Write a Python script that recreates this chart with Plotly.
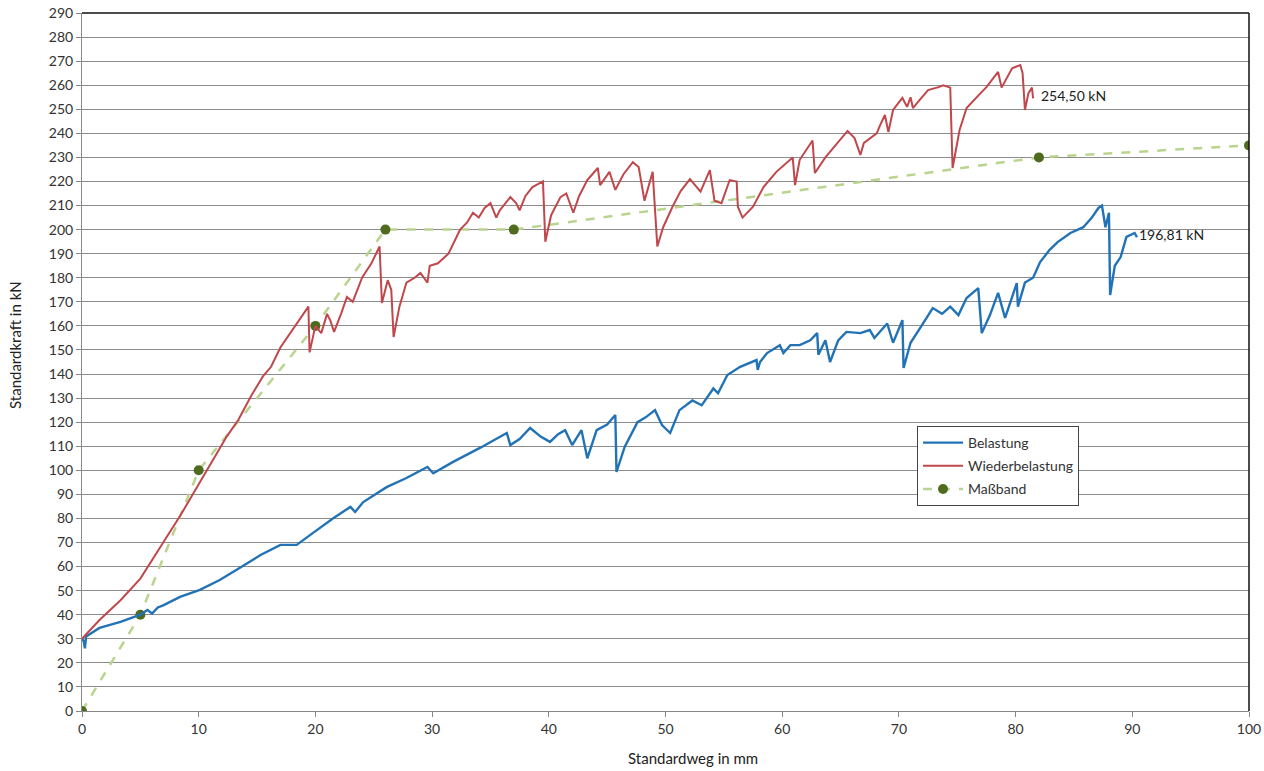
import plotly.graph_objects as go

# Belastung (first loading)
bel_x = [0, 0.15, 0.25, 0.35, 1.5, 3.3, 5, 5.6, 6, 6.5, 7, 8.4, 10.1, 11.8, 13.5, 15.3, 17, 18.4,
         19.8, 21.5, 23, 23.4, 24.1, 26.1, 27.8, 29.6, 30.1, 31.8, 34.1, 36.4, 36.7, 37.5, 38.4,
         39.3, 40.1, 40.8, 41.4, 42, 42.8, 43.3, 44.1, 45, 45.7, 45.8, 46.5, 47.6, 48.3, 49.1,
         49.7, 50.4, 51.2, 52.3, 53.1, 54.1, 54.5, 55.3, 56.4, 57.8, 57.9, 58.1, 58.7, 59.8,
         60.1, 60.7, 61.5, 62.4, 63, 63.1, 63.7, 64.1, 64.8, 65.5, 66.7, 67.5, 67.9, 69, 69.5,
         70.3, 70.4, 71, 71.8, 72.9, 73.7, 74.4, 75.1, 75.8, 76.8, 77.1, 77.8, 78.5, 79.1, 80.1,
         80.2, 80.8, 81.5, 82.1, 82.9, 83.6, 84.7, 85.8, 86.5, 87.1, 87.4, 87.7, 88, 88.1, 88.5,
         89, 89.5, 90.2, 90.4]
bel_y = [30, 29, 26, 31, 34.5, 37, 40, 42, 40.5, 43, 44, 47.4, 50.3, 54.4, 59.4, 64.8, 69, 69,
         74, 80, 84.8, 82.7, 86.8, 93, 96.8, 101.4, 98.8, 103.5, 109.3, 115.5, 110.5, 113, 117.6,
         114, 111.8, 115, 116.7, 110.5, 116.7, 105, 116.7, 119, 123, 99.3, 109.7, 120, 122, 125,
         118.8, 115.5, 125, 129, 127, 134, 132, 139.6, 143, 145.8, 141.7, 145, 148.7, 152,
         148.7, 152, 152, 154, 157, 148, 154, 145, 154, 157.5, 157, 158.3, 155, 161, 153,
         162.4, 142.5, 153, 159, 167.4, 165, 168, 164.5, 171.6, 175.7, 157, 164.5, 173.7, 163.3, 177.8,
         168, 178, 180, 186.5, 191.5, 194.8, 198.6, 201, 204.8, 209, 210, 201, 207, 172.8, 185,
         188.6, 197, 198.6, 196.81]

# Wiederbelastung (reloading)
wb_x = [0, 0.5, 1.5, 3.3, 5, 6.7, 8.4, 10.1, 12.4, 13.4, 14.5, 15.5, 16.2, 17, 18, 19.4, 19.5,
        20, 20.5, 21, 21.3, 21.6, 22.2, 22.7, 23.2, 24, 24.8, 25.5, 25.7, 26.2, 26.5, 26.7, 27.2,
        27.8, 28.5, 29, 29.6, 29.8, 30.5, 31.4, 32, 32.4, 33, 33.5, 34, 34.5, 35, 35.5, 35.8,
        36.7, 37.2, 37.5, 38, 38.6, 39.5, 39.7, 40.2, 41, 41.5, 42.1, 42.6, 43.3, 44.2, 44.4,
        45.2, 45.7, 46.4, 47.2, 47.7, 48.2, 48.9, 49.3, 49.8, 50.6, 51.3, 52.1, 53, 53.8, 54.2,
        54.8, 55.5, 56.1, 56.2, 56.6, 57.5, 58.4, 59.5, 60.9, 61.1, 61.5, 62.6, 62.8, 63.7, 64.4,
        65.6, 66.2, 66.7, 67, 68.1, 68.4, 68.8, 69.1, 69.5, 70.3, 70.7, 71, 71.2, 71.8, 72.5,
        73.4, 73.8, 74.4, 74.6, 75.2, 75.8, 77, 77.5, 78.5, 78.8, 79.7, 80.4, 80.6, 80.8, 81.1,
        81.4, 81.5]
wb_y = [30, 32.5, 37.8, 46, 55, 68, 81, 95, 114, 121, 131, 139, 143, 151, 158, 168, 149,
        160, 157, 165, 162, 157.5, 165, 172, 170, 180, 186, 193, 169.5, 179, 175, 155.4, 168,
        178, 180, 182, 178, 185, 186, 190, 196, 200, 203, 207, 205, 209, 211, 205, 208,
        213.5, 211, 208, 214, 217.7, 220, 195, 206, 213.5, 215, 207, 214, 220.6, 225.6, 218.5,
        224, 216.5, 223, 228, 226, 212, 224, 193, 201, 209.5, 216, 221, 215.8, 224.7, 212,
        211, 220.6, 220, 209.5, 205, 209.5, 217.7, 224, 230, 218.5, 229, 237, 223.5, 230, 234,
        241, 238, 231, 236, 240, 243.5, 247.6, 240.5, 249.7, 254.7, 251, 255, 250.5, 254, 258,
        259.2, 260, 259, 225.6, 241.4, 250.5, 256.7, 259.2, 265.5, 259, 267, 268.4, 265, 249.7, 256.7,
        259, 254.5]

# Maßband (tape measure readings)
mb_x = [0, 5, 10, 20, 26, 37, 82, 100]
mb_y = [0, 40, 100, 160, 200, 200, 230, 235]

x_ticks = list(range(0, 101, 10))
y_ticks = list(range(0, 291, 10))

FONT = "Lato, 'Open Sans', Arial, sans-serif"

fig = go.Figure()
fig.add_trace(go.Scatter(
    x=mb_x, y=mb_y, name="Maßband", mode="lines+markers", legendgroup="c", legendrank=3,
    line=dict(color="#b9d48e", width=2.5, dash="dash"),
    marker=dict(color="#4e6b1e", size=10),
))
fig.add_trace(go.Scatter(
    x=bel_x, y=bel_y, name="Belastung", mode="lines", legendgroup="a", legendrank=1,
    line=dict(color="#2272b6", width=2.4),
))
fig.add_trace(go.Scatter(
    x=wb_x, y=wb_y, name="Wiederbelastung", mode="lines", legendgroup="b", legendrank=2,
    line=dict(color="#c0474b", width=2),
))

# end-value labels
fig.add_annotation(x=wb_x[-1], y=wb_y[-1], text="254,50 kN", showarrow=False,
                   xanchor="left", yanchor="middle", xshift=6, yshift=3,
                   font=dict(size=14, color="#222", family=FONT))
fig.add_annotation(x=bel_x[-1], y=bel_y[-1], text="196,81 kN", showarrow=False,
                   xanchor="left", yanchor="middle", xshift=0, yshift=3,
                   font=dict(size=14, color="#222", family=FONT))

# axis titles
fig.add_annotation(xref="paper", yref="paper", x=(693 - 82) / 1167, y=-(758 - 711) / 698,
                   text="Standardweg in mm", showarrow=False, xanchor="center", yanchor="middle",
                   font=dict(size=15, color="#222", family=FONT))
fig.add_annotation(xref="paper", yref="paper", x=-(82 - 15) / 1167, y=(711 - 345) / 698,
                   text="Standardkraft in kN", showarrow=False, textangle=-90,
                   xanchor="center", yanchor="middle",
                   font=dict(size=15, color="#222", family=FONT))

# dark plot-area frame on top and right
fig.add_shape(type="line", xref="paper", yref="paper", x0=0, x1=1, y0=1, y1=1,
              line=dict(color="#111", width=1.5))
fig.add_shape(type="line", xref="paper", yref="paper", x0=1, x1=1, y0=0, y1=1,
              line=dict(color="#111", width=1.5))

fig.update_layout(
    width=1264, height=771,
    margin=dict(l=82, r=15, t=13, b=60, autoexpand=False),
    paper_bgcolor="white", plot_bgcolor="white",
    font=dict(family=FONT, size=14, color="#333"),
    showlegend=True,
    legend=dict(
        x=(917 - 82) / 1167, y=(711 - 426) / 698, xanchor="left", yanchor="top",
        bgcolor="white", bordercolor="#444", borderwidth=1,
        font=dict(size=14, color="#333", family=FONT),
        tracegroupgap=2, itemwidth=40,
    ),
    xaxis=dict(
        range=[0, 100], tickvals=x_ticks, ticktext=[str(v) for v in x_ticks],
        showgrid=False, zeroline=False, showline=True, linecolor="#888", linewidth=1,
        ticks="outside", ticklen=5, tickcolor="#888", automargin=False,
        tickfont=dict(size=14, color="#333"),
    ),
    yaxis=dict(
        range=[0, 290], tickvals=y_ticks, ticktext=[str(v) for v in y_ticks],
        showgrid=True, gridcolor="#8c8c8c", gridwidth=1,
        zeroline=False, showline=True, linecolor="#888", linewidth=1,
        ticks="outside", ticklen=5, tickcolor="#888", automargin=False,
        tickfont=dict(size=14, color="#333"),
    ),
)

fig.write_html("out.html")
